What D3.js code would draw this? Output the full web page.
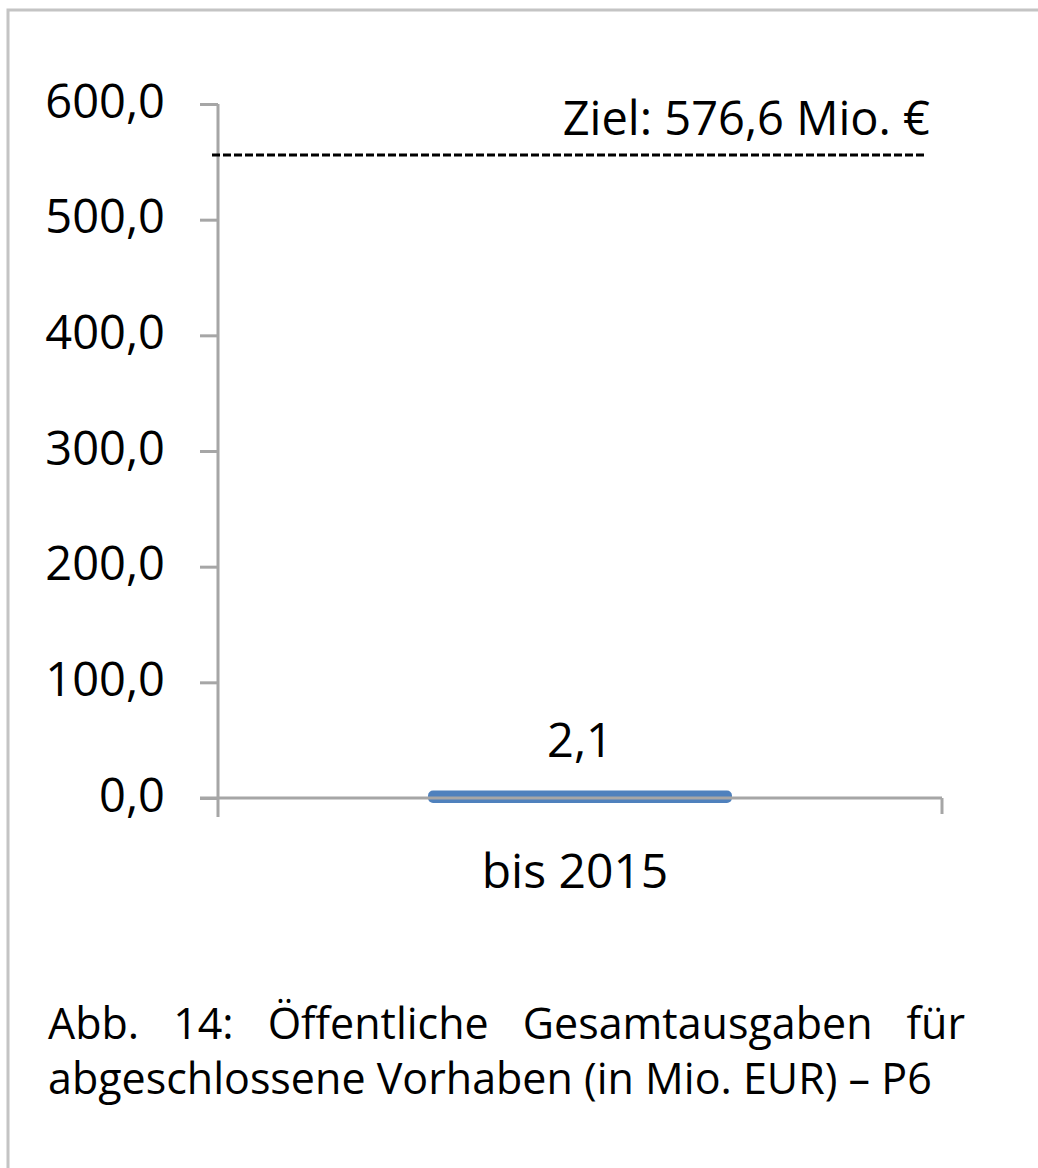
<!DOCTYPE html>
<html>
<head>
<meta charset="utf-8">
<script src="https://cdn.jsdelivr.net/npm/d3@7"></script>
<style>
  body { margin: 0; background: #fff; }
  svg { display: block; font-family: "Open Sans", sans-serif; }
</style>
</head>
<body>
<div id="chart"></div>
<script>
// data
const categories = ["bis 2015"];
const values = [2.1];
const yTicks = [0, 100, 200, 300, 400, 500, 600];
const targetValue = 576.6;       // value in the label
const targetLineAt = 556;        // where the dashed line actually sits
const targetLabel = "Ziel: 576,6 Mio. €";
const captionLines = [
  "Abb. 14: Öffentliche Gesamtausgaben für",
  "abgeschlossene Vorhaben (in Mio. EUR) – P6"
];

var width = 1038, height = 1168;
var axisColor = "#a6a6a6";
var fmt = d => d3.format(".1f")(d).replace(".", ",");

var svg = d3.select("#chart").append("svg")
  .attr("width", width)
  .attr("height", height);

svg.append("rect").attr("width", width).attr("height", height).attr("fill", "#fff");

// frame (only left and top visible in the crop)
svg.append("path")
  .attr("d", `M8,${height} V10 H${width}`)
  .attr("fill", "none")
  .attr("stroke", "#c4c4c4")
  .attr("stroke-width", 3);

var y = d3.scaleLinear().domain([0, 600]).range([798, 104]);
var x = d3.scaleBand().domain(categories).range([218, 942]).padding(0.4225);

// bar (thick rounded outline like the original)
svg.append("g")
  .selectAll("rect")
  .data(values)
  .join("rect")
  .attr("x", (d, i) => x(categories[i]))
  .attr("y", d => y(d))
  .attr("width", x.bandwidth())
  .attr("height", d => y(0) - y(d))
  .attr("fill", "#4f81bd")
  .attr("stroke", "#4f81bd")
  .attr("stroke-width", 10)
  .attr("stroke-linejoin", "round");

// y axis
var yAxis = svg.append("g")
  .attr("transform", `translate(${x.range()[0]},0)`)
  .call(d3.axisLeft(y).tickValues(yTicks).tickFormat(fmt).tickSize(18).tickSizeOuter(0).tickPadding(35));
yAxis.select(".domain").remove();
yAxis.selectAll("line").attr("stroke", axisColor).attr("stroke-width", 3);
yAxis.selectAll("text")
  .attr("fill", "#000")
  .attr("font-size", 47)
  .attr("font-family", "Open Sans")
  .attr("dy", "0.28em");

// y axis line, running a bit below zero like the category ticks
svg.append("line")
  .attr("x1", x.range()[0]).attr("x2", x.range()[0])
  .attr("y1", y(600)).attr("y2", y(0) + 19)
  .attr("stroke", axisColor).attr("stroke-width", 3);

// x axis
svg.append("line")
  .attr("x1", x.range()[0] - 18).attr("x2", x.range()[1])
  .attr("y1", y(0)).attr("y2", y(0))
  .attr("stroke", axisColor).attr("stroke-width", 3);
svg.append("line")
  .attr("x1", x.range()[1]).attr("x2", x.range()[1])
  .attr("y1", y(0)).attr("y2", y(0) + 16)
  .attr("stroke", axisColor).attr("stroke-width", 3);

var xAxis = svg.append("g")
  .attr("transform", `translate(0,${y(0)})`)
  .call(d3.axisBottom(x).tickSize(0).tickPadding(56));
xAxis.select(".domain").remove();
xAxis.selectAll("text")
  .attr("fill", "#000")
  .attr("font-size", 48)
  .attr("font-family", "Open Sans")
  .attr("dy", "0.71em")
  .attr("dx", -5);

// value label
svg.append("g")
  .selectAll("text")
  .data(values)
  .join("text")
  .attr("x", (d, i) => x(categories[i]) + x.bandwidth() / 2)
  .attr("y", d => y(d) - 39)
  .attr("text-anchor", "middle")
  .attr("font-size", 47)
  .text(d => fmt(d));

// target line
svg.append("line")
  .attr("x1", x.range()[0] - 6).attr("x2", x.range()[1] - 17)
  .attr("y1", y(targetLineAt)).attr("y2", y(targetLineAt))
  .attr("stroke", "#000")
  .attr("stroke-width", 3)
  .attr("stroke-dasharray", "8,3");

svg.append("text")
  .attr("x", 930)
  .attr("y", 135)
  .attr("text-anchor", "end")
  .attr("font-size", 47)
  .text(targetLabel);

// caption, first line justified
var capSize = 43;
var line1 = captionLines[0].split(" ");
var capG = svg.append("g").attr("font-size", capSize);
var words = capG.selectAll("text.w")
  .data(line1)
  .join("text")
  .attr("class", "w")
  .attr("y", 1039)
  .text(d => d);
var widths = [];
words.each(function () { widths.push(this.getComputedTextLength()); });
var left = 48, right = 965;
var gap = (right - left - d3.sum(widths)) / (line1.length - 1);
var cx = left;
words.attr("x", (d, i) => { var p = cx; cx += widths[i] + gap; return p; });

capG.append("text")
  .attr("x", 48)
  .attr("y", 1094)
  .text(captionLines[1]);
</script>
</body>
</html>
